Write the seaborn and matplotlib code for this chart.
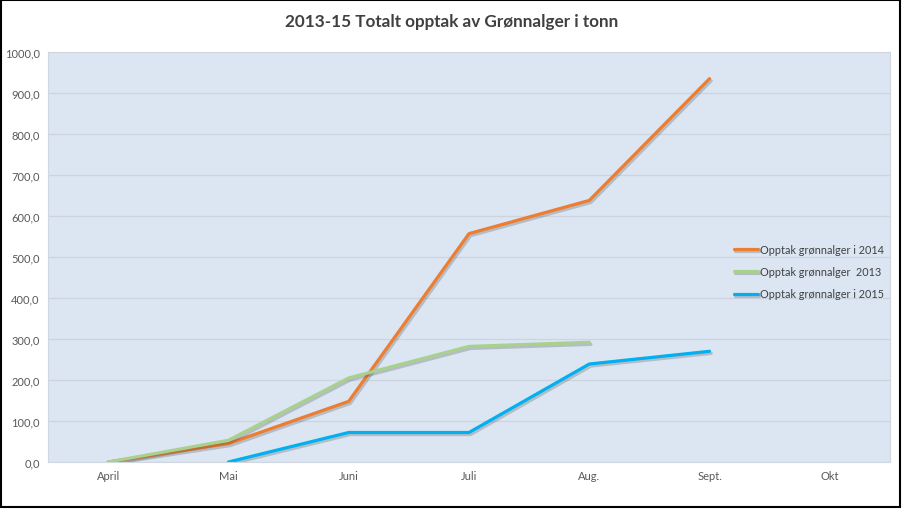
import pandas as pd
import numpy as np
import matplotlib
matplotlib.use("Agg")
import matplotlib.pyplot as plt
import matplotlib.patheffects as pe
from matplotlib.patches import Rectangle
from matplotlib.ticker import FuncFormatter
import seaborn as sns

# data
months = ['April', 'Mai', 'Juni', 'Juli', 'Aug.', 'Sept.', 'Okt']
opptak_2014 = [0, 45, 148, 557, 638, 935, np.nan]
opptak_2013 = [0, 53, 205, 282, 292, np.nan, np.nan]
opptak_2015 = [np.nan, 0, 72, 72, 239, 270, np.nan]

labels = ['Opptak grønnalger i 2014', 'Opptak grønnalger  2013', 'Opptak grønnalger i 2015']
colors = ['#ED7D31', '#A9D18E', '#00B0F0']

sns.set_style("white")
plt.rcParams['font.family'] = ['Lato', 'DejaVu Sans']

rows = []
for lab, vals in zip(labels, [opptak_2014, opptak_2013, opptak_2015]):
    for i, v in enumerate(vals):
        rows.append({'pos': i, 'verdi': v, 'serie': lab})
df = pd.DataFrame(rows).dropna()

fig = plt.figure(figsize=(9.03, 5.10), dpi=100)
ax = fig.add_axes([48 / 903, 47 / 510, 842 / 903, 410 / 510])
ax.set_facecolor('#DCE6F2')

sns.lineplot(data=df, x='pos', y='verdi', hue='serie', hue_order=labels,
             palette=colors, linewidth=2.3, ax=ax, legend=True)

for line in ax.get_lines():
    line.set_path_effects([pe.SimpleLineShadow(offset=(1.2, -1.5), alpha=0.25, shadow_color='#404040'),
                           pe.Normal()])

ax.set_xlim(-0.5, 6.5)
ax.set_ylim(0, 1000)
ax.set_xticks(range(len(months)))
ax.set_xticklabels(months)
ax.set_yticks(np.arange(0, 1001, 100))
ax.yaxis.set_major_formatter(FuncFormatter(lambda v, p: f"{v:.1f}".replace('.', ',')))
ax.tick_params(axis='both', length=0, labelsize=8, colors='#595959', pad=6)
ax.grid(axis='y', color='#CCD5DF', linewidth=0.9)
ax.set_axisbelow(True)
for s in ax.spines.values():
    s.set_color('#D0D7E0')
    s.set_linewidth(0.8)
ax.set_xlabel('')
ax.set_ylabel('')

leg = ax.legend(loc='upper left', bbox_to_anchor=(724 / 903, 1 - 235 / 510),
                bbox_transform=fig.transFigure, frameon=False, fontsize=7.8,
                handlelength=2.2, handletextpad=0.2, labelspacing=1.05,
                labelcolor='#404040')
for h in leg.get_lines():
    h.set_linewidth(2.3)

fig.text(0.5, 1 - 22 / 510, '2013-15 Totalt opptak av Grønnalger i tonn', ha='center', va='center',
         fontsize=12.3, fontweight='bold', color='#404040')

fig.patches.append(Rectangle((1 / 903, 2 / 510), 899 / 903, 507 / 510, transform=fig.transFigure,
                             fill=False, edgecolor='black', linewidth=1.5))

plt.savefig("out.png", dpi=100)
